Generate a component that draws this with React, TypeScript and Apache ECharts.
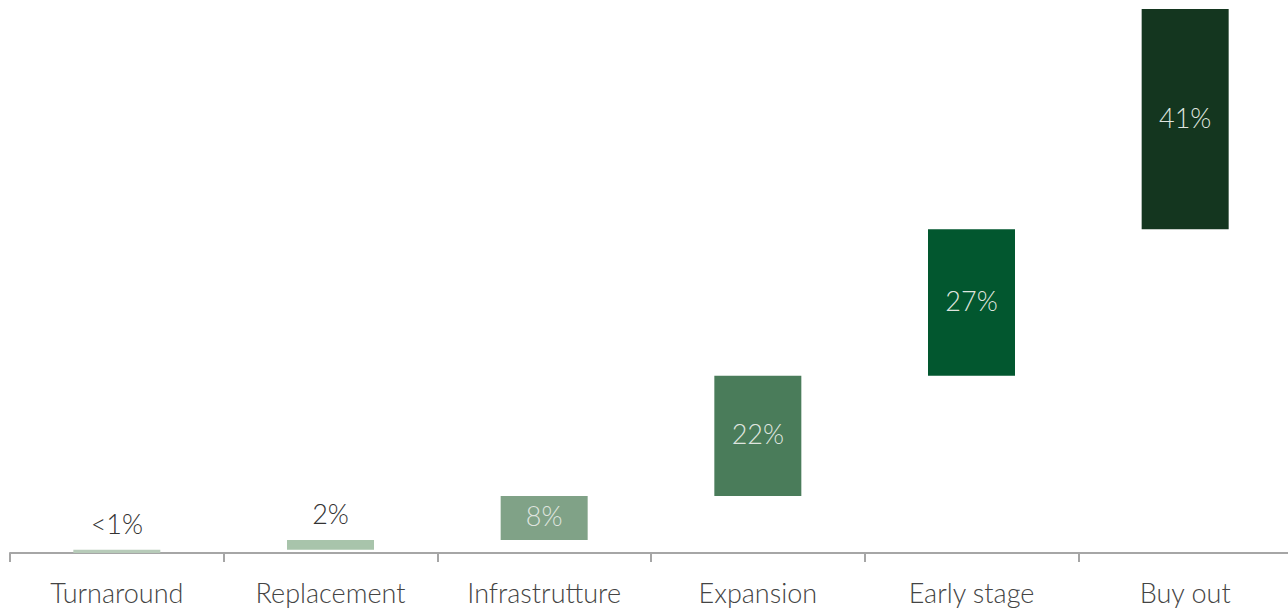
import React, { useEffect, useRef } from "react";
import * as echarts from "echarts";

const categories = ["Turnaround", "Replacement", "Infrastrutture", "Expansion", "Early stage", "Buy out"];
const values = [0.6, 1.8, 8.1, 22.1, 26.9, 40.5];
const valueLabels = ["<1%", "2%", "8%", "22%", "27%", "41%"];
const barColors = ["#b7cbb9", "#a8c4ab", "#80a287", "#4a7c5a", "#02572f", "#14361f"];
const labelInside = [false, false, true, true, true, true];

export default function App() {
  const ref = useRef<HTMLDivElement>(null);
  useEffect(() => {
    if (!ref.current) return;
    const chart = echarts.init(ref.current, null, { renderer: "svg" });
    const bases: number[] = [];
    let acc = 0;
    values.forEach((v) => {
      bases.push(acc);
      acc += v;
    });
    const font = "'Lato Light', Lato, sans-serif";
    chart.setOption({
      animation: false,
      grid: { left: 10, right: 0, top: 9, bottom: 55 },
      xAxis: {
        type: "category",
        data: categories,
        axisLine: { show: true, lineStyle: { color: "#a6a6a6", width: 2 } },
        axisTick: { show: true, length: 9, lineStyle: { color: "#a6a6a6", width: 2 } },
        axisLabel: {
          color: "#444444",
          fontFamily: font,
          fontWeight: 300,
          fontSize: 27,
          margin: 26,
        },
      },
      yAxis: { type: "value", min: 0, max: 100, show: false, splitLine: { show: false } },
      series: [
        {
          type: "bar",
          stack: "w",
          data: bases,
          itemStyle: { color: "transparent" },
          barWidth: 87,
          silent: true,
        },
        {
          type: "bar",
          stack: "w",
          barWidth: 87,
          data: values.map((v, i) => ({
            value: v,
            itemStyle: { color: barColors[i] },
            label: labelInside[i]
              ? { position: "inside", color: "#dfe4df", fontSize: 27, offset: [0, -2] }
              : { position: "top", color: "#333333", fontSize: 27, distance: 13 },
          })),
          label: {
            show: true,
            fontFamily: font,
            fontWeight: 300,
            formatter: (p: any) => valueLabels[p.dataIndex],
          },
        },
      ],
    });
    return () => chart.dispose();
  }, []);
  return (
    <div style={{ position: "absolute", left: 0, top: 0, width: 1288, height: 608, overflow: "hidden", background: "#fff" }}>
      <div ref={ref} style={{ width: 1292, height: 608 }} />
    </div>
  );
}
